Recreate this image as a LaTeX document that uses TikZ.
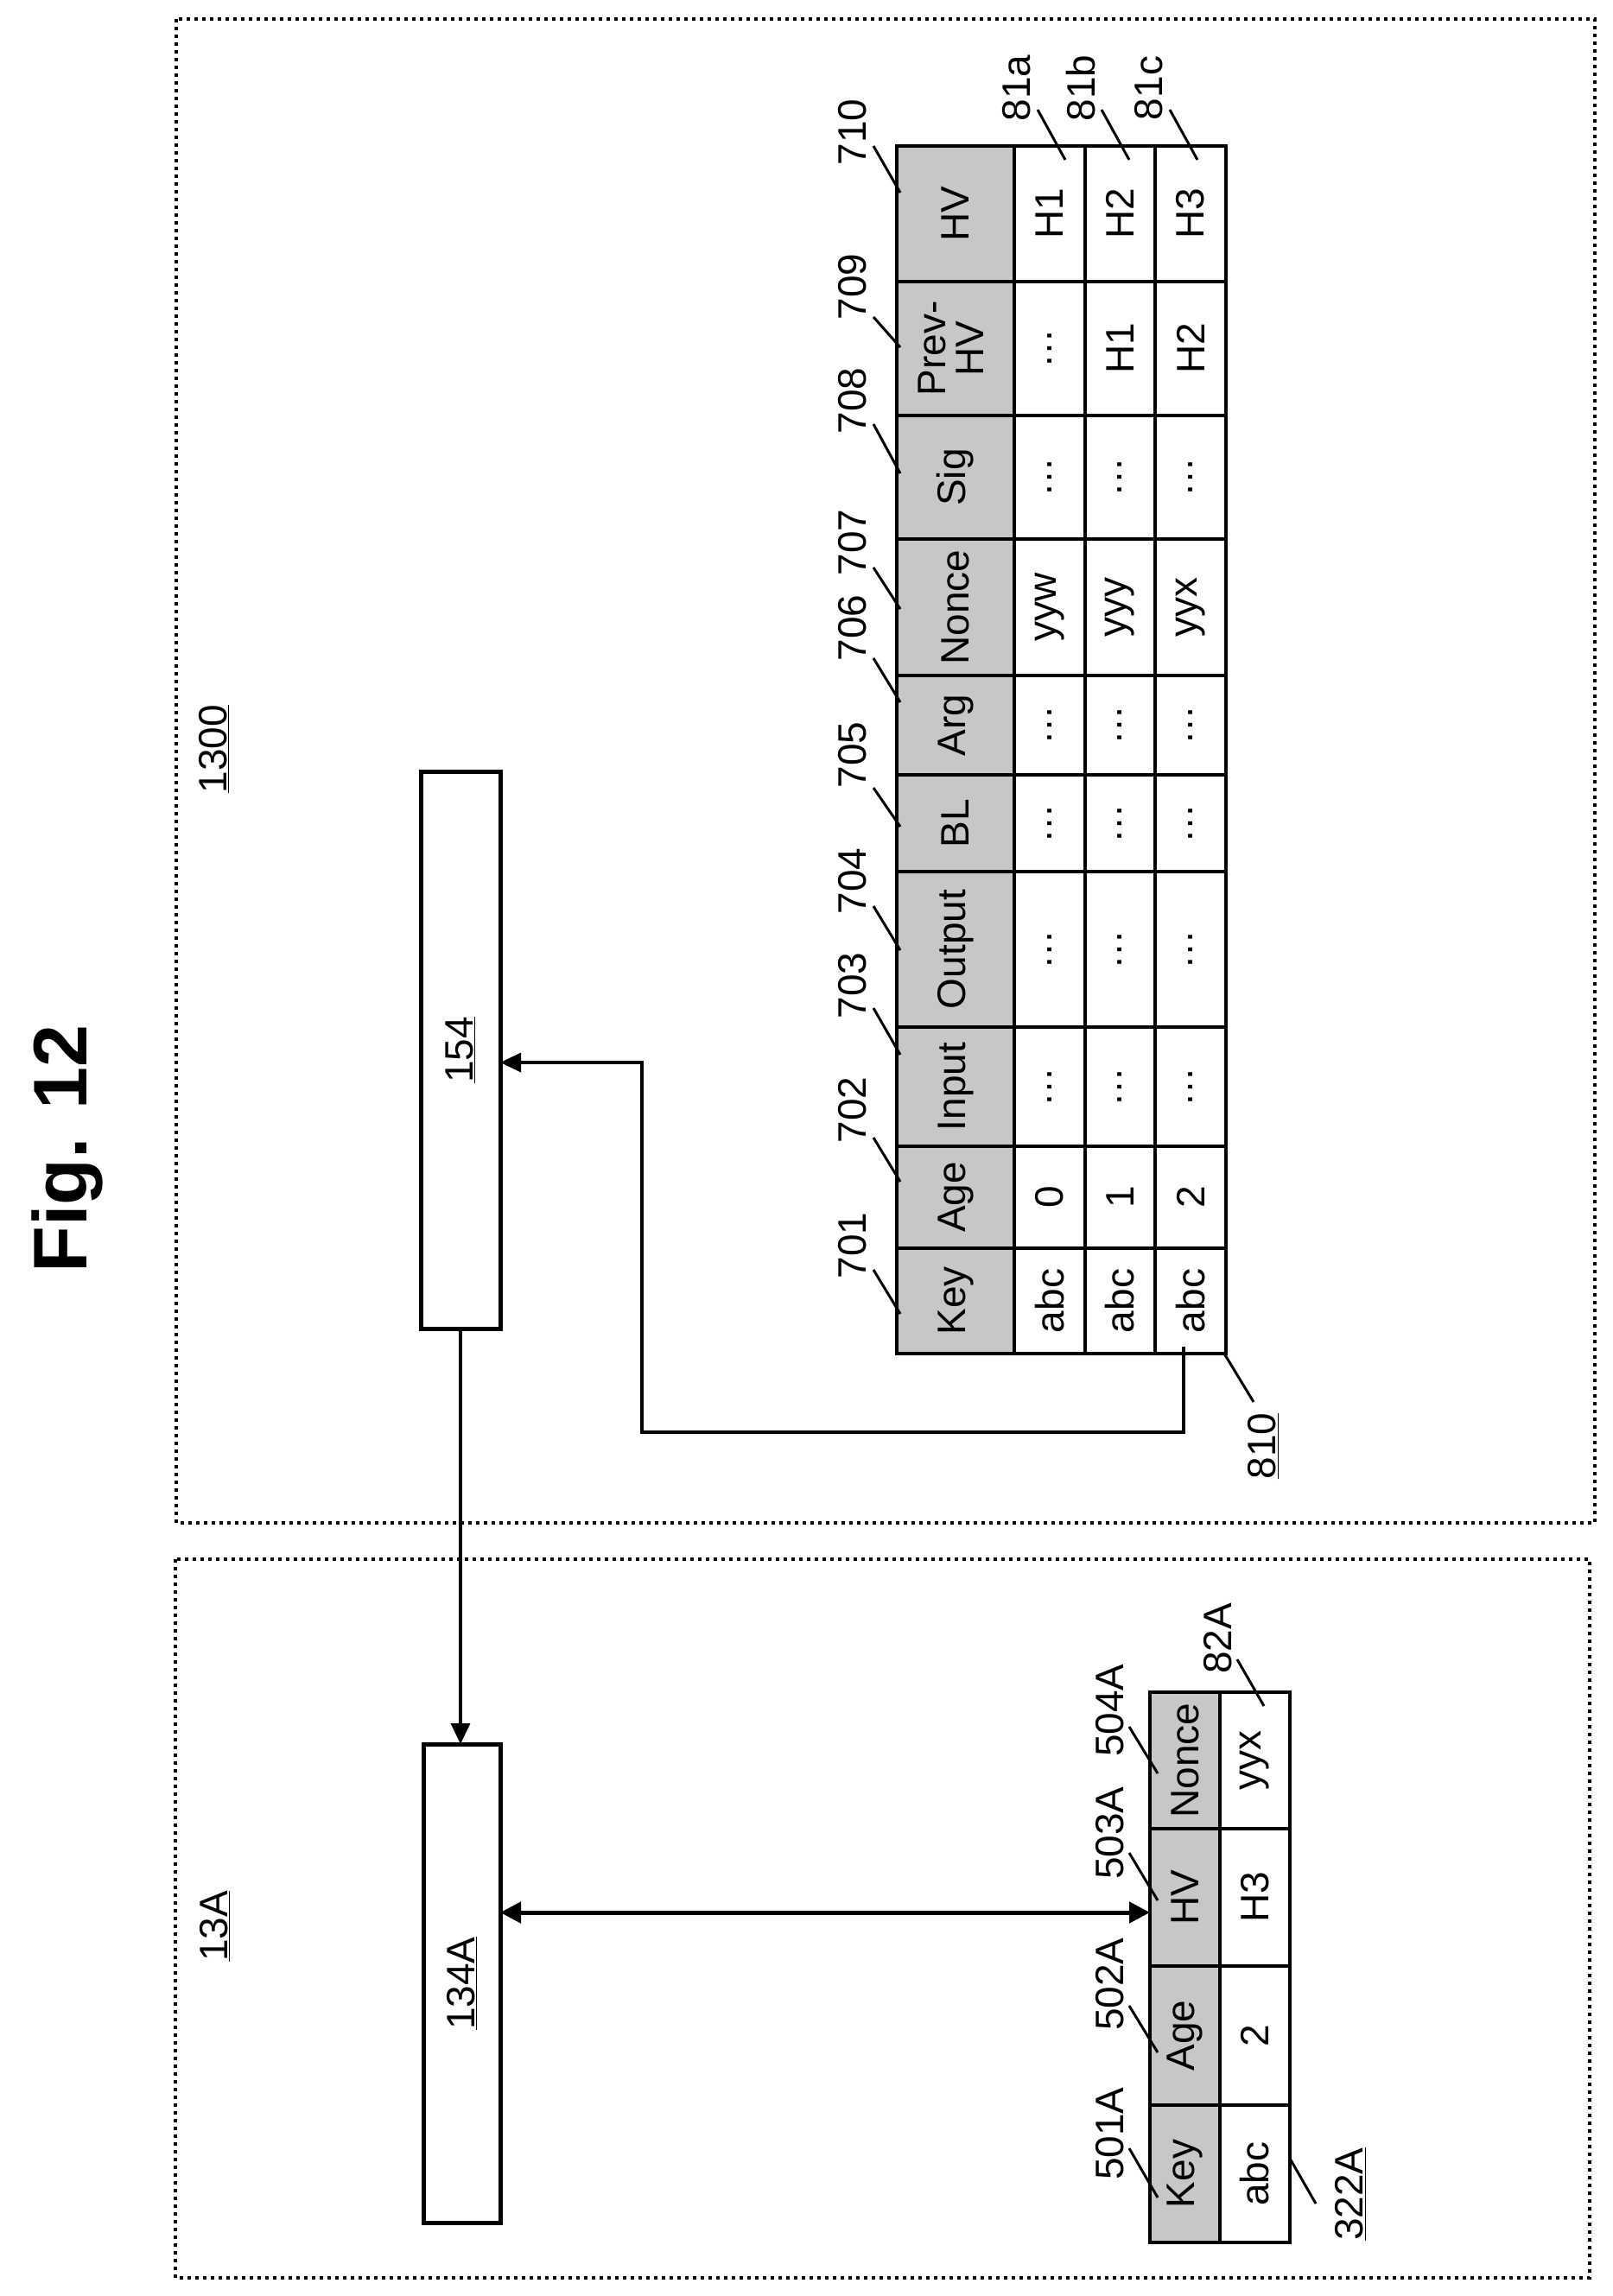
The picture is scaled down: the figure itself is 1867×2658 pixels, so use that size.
\documentclass[tikz,border=0pt]{standalone}
\usepackage{fontspec}
\setmainfont{Liberation Sans}
\usetikzlibrary{arrows.meta}
\newcommand\lbl[1]{\rotatebox{90}{#1}}
\newcommand\mycell[7]{%
  \pgfmathsetmacro\cw{#4-#2}\pgfmathsetmacro\ch{#5-#3}%
  \node[cellbox,fill=#7,minimum width=\cw pt,minimum height=\ch pt] (#1) at ({(#2+#4)/2},{(#3+#5)/2}) {\lbl{#6}};}
\begin{document}
\begin{tikzpicture}[x=1pt,y=-1pt,
  every node/.style={font=\fontsize{46}{50}\selectfont},
  cellbox/.style={draw,line width=4.5pt,inner sep=0pt,outer sep=0pt},
  region/.style={draw,line width=4pt,dash pattern=on 4pt off 5pt},
  blk/.style={draw,line width=5pt,fill=white,inner sep=0pt,outer sep=0pt},
  conn/.style={line width=3.5pt},
  tip/.style={-{Triangle[length=24pt,width=22pt]}},
  lead/.style={line width=3pt},
  num/.style={inner sep=0pt}]
\useasboundingbox (0,0) rectangle (1867,2658);
\fill[white] (0,0) rectangle (1867,2658);
\colorlet{hdr}{black!22}
% regions
\draw[region] (204,22) rectangle (1846,1763);
\draw[region] (203,1805) rectangle (1840,2637);
\node[num] (t1300) at (248,867) {\lbl{\underline{1300}}};
\node[num] (t13A) at (249,2230) {\lbl{\underline{13A}}};
\node[num,font=\fontsize{88}{90}\selectfont\bfseries] (title) at (78,1330) {\lbl{Fig. 12}};
% boxes
\node[blk,minimum width=92pt,minimum height=645pt] (b154) at (533,1215.5) {\lbl{\underline{154}}};
\node[blk,minimum width=89pt,minimum height=554pt] (b134) at (534.5,2296) {\lbl{\underline{134A}}};
% main table
\def\hx{1038}\def\ra{1174}\def\rb{1256}\def\rc{1337}\def\rd{1419}
\foreach \nm/\ya/\yb/\h/\va/\vb/\vc in {
  hv/169/326/HV/H1/H2/H3,
  pv/326/481/{\begin{tabular}{@{}c@{}}Prev-\\[-6pt]HV\end{tabular}}/\dots/H1/H2,
  sg/481/624/Sig/\dots/\dots/\dots,
  no/624/782/Nonce/yyw/yyy/yyx,
  ar/782/897/Arg/\dots/\dots/\dots,
  bl/897/1009/BL/\dots/\dots/\dots,
  ou/1009/1189/Output/\dots/\dots/\dots,
  in/1189/1327/Input/\dots/\dots/\dots,
  ag/1327/1445/Age/0/1/2,
  ke/1445/1567/Key/abc/abc/abc}{
  \mycell{\nm h}{\hx}{\ya}{\ra}{\yb}{\h}{hdr}
  \mycell{\nm 1}{\ra}{\ya}{\rb}{\yb}{\va}{white}
  \mycell{\nm 2}{\rb}{\ya}{\rc}{\yb}{\vb}{white}
  \mycell{\nm 3}{\rc}{\ya}{\rd}{\yb}{\vc}{white}
}
% small table
\foreach \nm/\ya/\yb/\h/\v in {sno/1959/2117/Nonce/yyx, shv/2117/2276/HV/H3, sag/2276/2437/Age/2, ske/2437/2596/Key/abc}{
  \mycell{\nm h}{1331}{\ya}{1412}{\yb}{\h}{hdr}
  \mycell{\nm 1}{1412}{\ya}{1493}{\yb}{\v}{white}
}
% connectors
\draw[conn,tip] (b154.south) -- (b154.south |- b134.north);
\coordinate (c810) at (1370,1559);
\coordinate (e154) at ([yshift=-14.5pt]b154.east);
\draw[conn,tip] (c810) |- (743,1658) |- (e154);
\coordinate (d503) at ([yshift=-17.5pt]shvh.west);
\draw[conn,line width=5pt,{Triangle[length=24pt,width=24pt]}-{Triangle[length=24pt,width=24pt]}] (b134.east |- d503) -- (d503);
% column labels
\foreach \t/\y/\ya/\yb in {710/153/169/223, 709/332/367/402, 708/464/491/548, 707/628/657/705, 706/727/762/813, 705/874/912/957, 704/1020/1049/1100, 703/1141/1167/1221, 702/1285/1317/1368, 701/1442/1470/1521}{
  \node[num] (L\t) at (987,\y) {\lbl{\t}};
  \draw[lead] (1011,\ya) -- (1042,\yb);
}
\foreach \t/\x in {81a/1177, 81b/1251, 81c/1330}{
  \node[num] (L\t) at (\x,102) {\lbl{\t}};
  \draw[lead] (\x+24,127) -- (\x+56,185);
}
\node[num] (L810) at (1462,1674) {\lbl{\underline{810}}};
\draw[lead] (1417,1567) -- (1451,1623);
\foreach \t/\y/\ya/\yb in {501A/2470/2487/2544, 502A/2297/2322/2376, 503A/2122/2145/2200, 504A/1980/1999/2053}{
  \node[num] (L\t) at (1285,\y) {\lbl{\t}};
  \draw[lead] (1307,\ya) -- (1340,\yb);
}
\node[num] (L82A) at (1410,1897) {\lbl{82A}};
\draw[lead] (1432,1921) -- (1463,1975);
\node[num] (L322A) at (1563,2540) {\lbl{\underline{322A}}};
\draw[lead] (1492,2497) -- (1523,2551);
\end{tikzpicture}
\end{document}
